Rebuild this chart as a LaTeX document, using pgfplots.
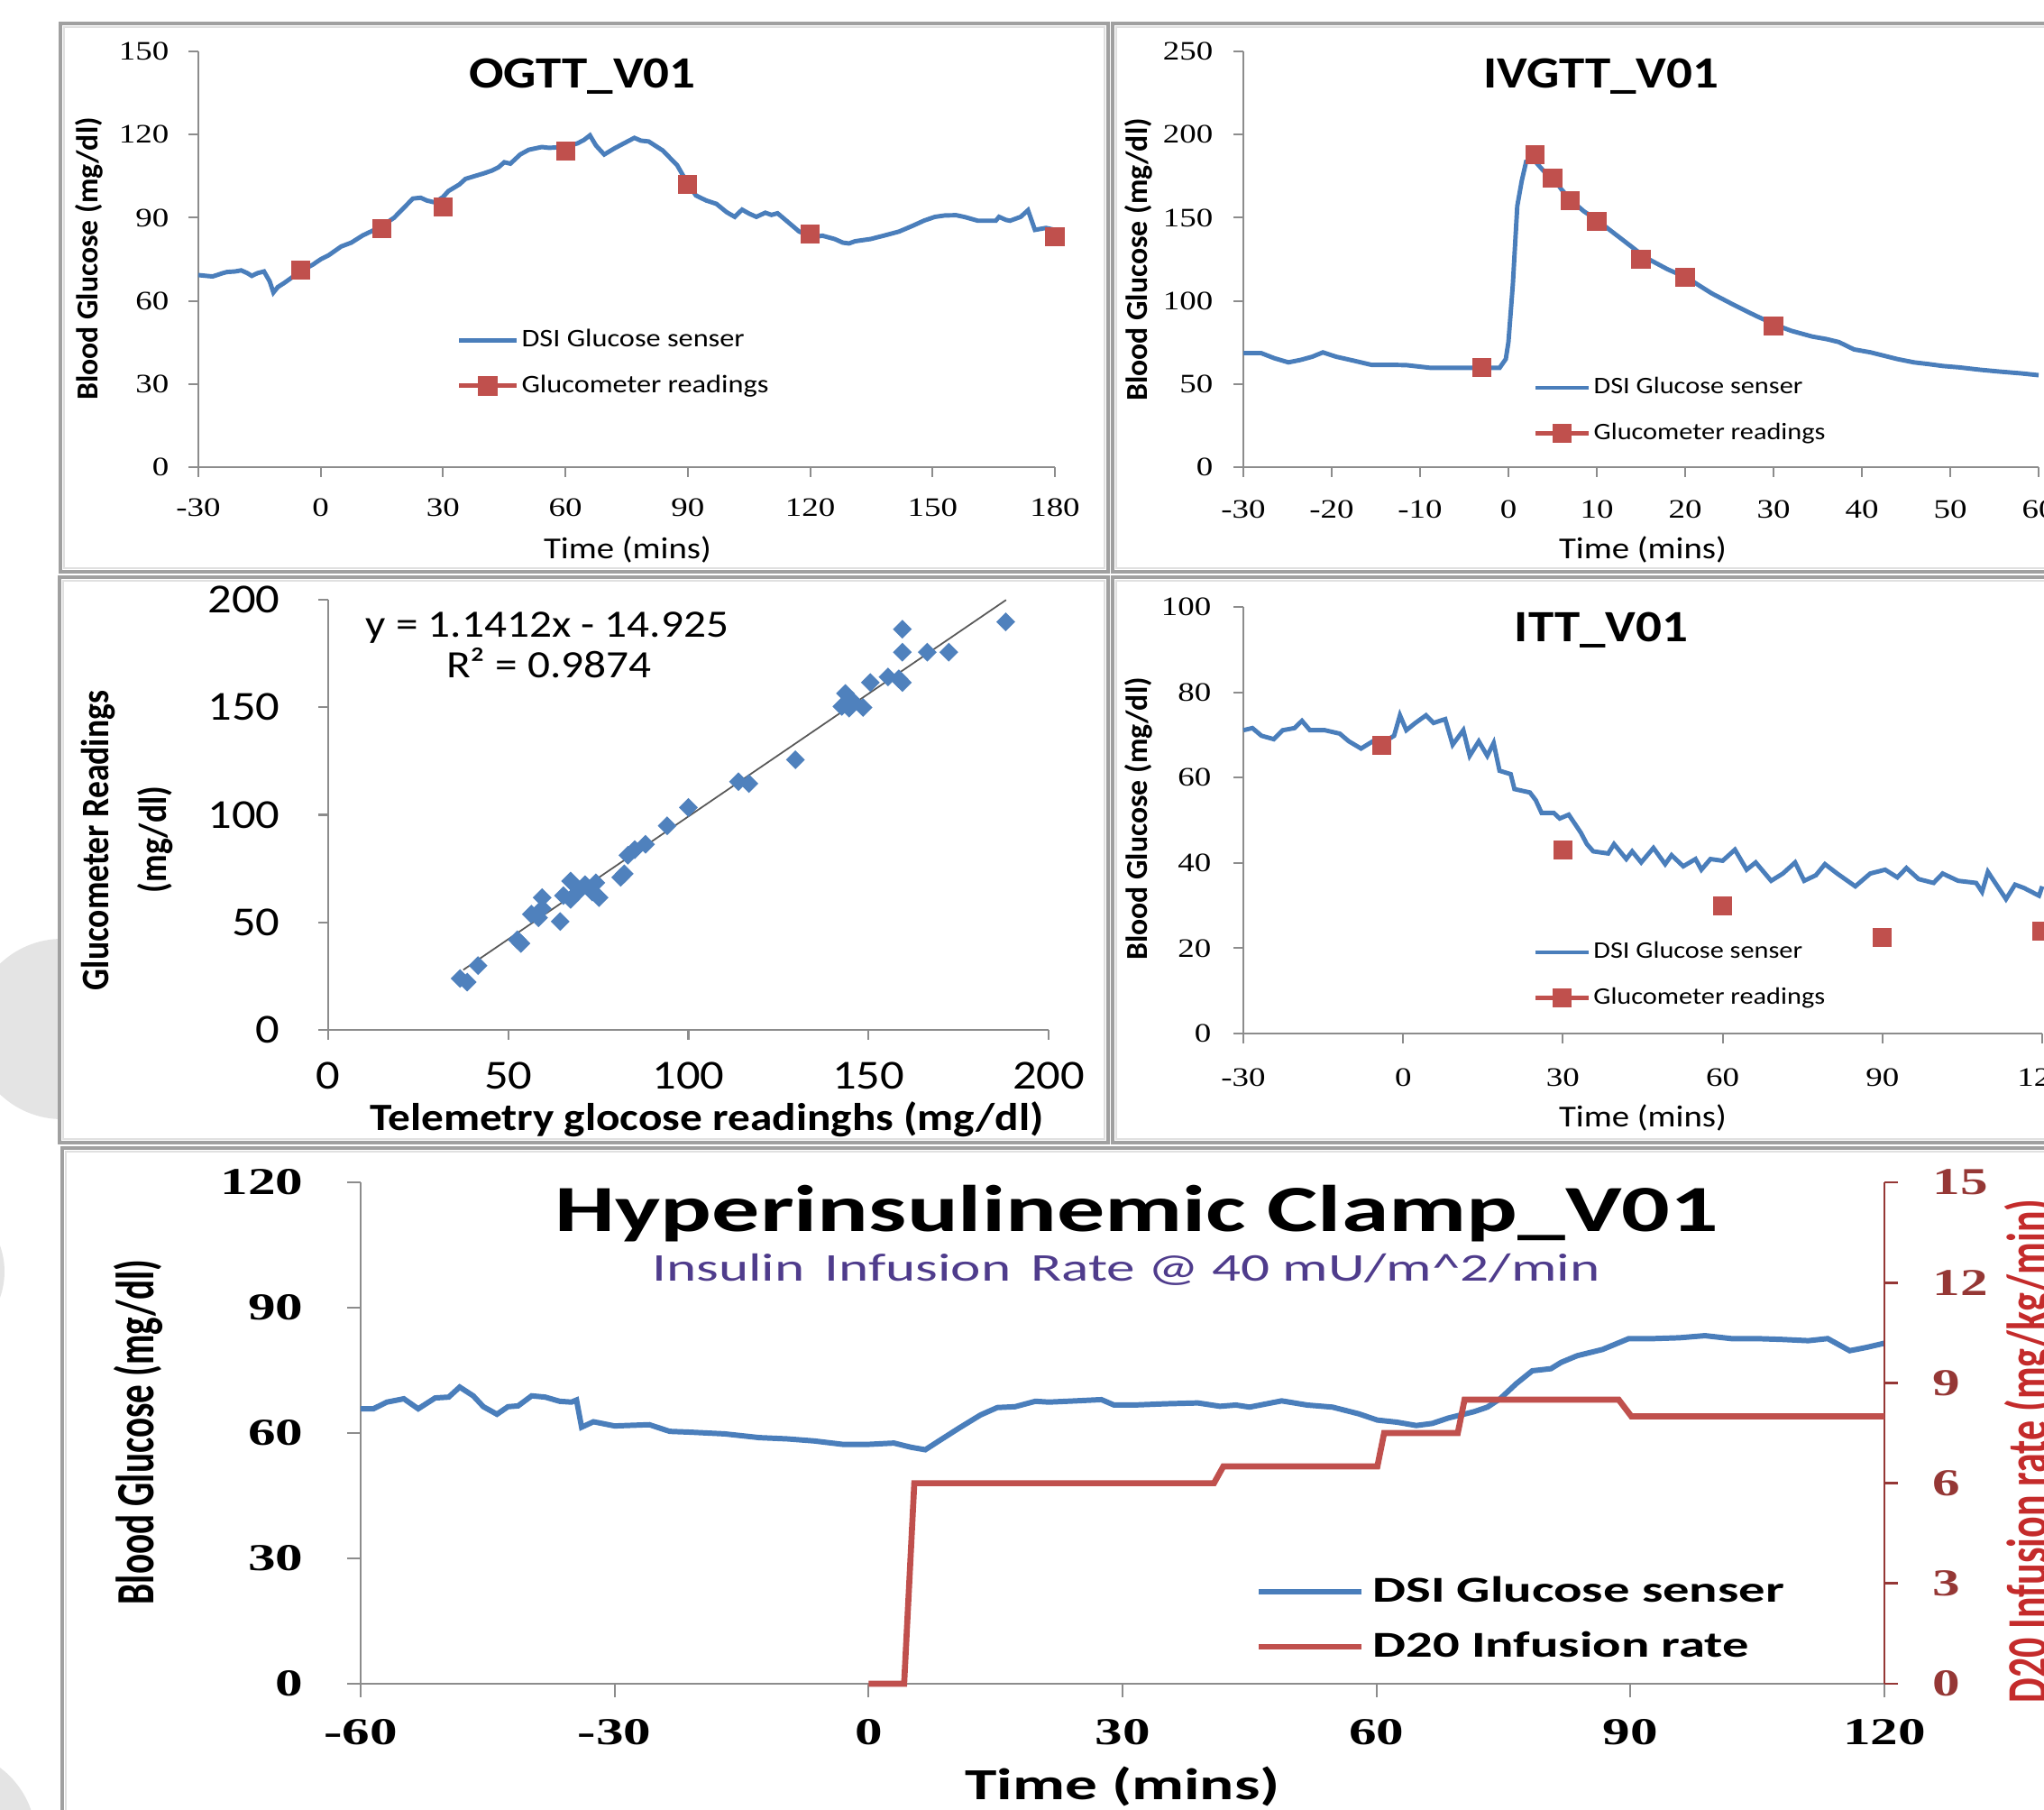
\documentclass[border=0pt]{standalone}
\usepackage{pgfplots}
\pgfplotsset{compat=1.18}
\usepackage{graphicx}
\usepackage{fontspec}
\setmainfont{Carlito}
\newfontfamily\fA[FakeStretch=1.15]{Carlito}
\newfontfamily\fB[FakeStretch=1.45]{Carlito}
\newfontfamily\sA[FakeStretch=1.25]{Liberation Serif}
\newfontfamily\sB[FakeStretch=1.45]{Liberation Serif}
\definecolor{xblue}{HTML}{4A7EBB}
\definecolor{dblue}{HTML}{4F81BD}
\definecolor{xred}{HTML}{C0504D}
\definecolor{axgray}{HTML}{8C8C8C}
\definecolor{framegray}{HTML}{A0A0A0}
\definecolor{darkred2}{HTML}{953735}
\definecolor{lblred}{HTML}{C42B2B}
\definecolor{purp}{HTML}{4F3C8C}
\definecolor{blob}{HTML}{E4E4E4}
\newcommand{\fs}[1]{\fontsize{#1}{#1}\selectfont}

\pgfplotsset{
  excel/.style={
    scale only axis, enlargelimits=false, clip=false,
    anchor=south west,
    axis x line*=bottom, axis y line*=left,
    axis line style={draw=axgray, line width=0.6pt},
    tick style={draw=axgray, line width=0.6pt},
    tick align=outside, major tick length=1.1mm,
    /pgf/number format/assume math mode=true,
    /pgf/number format/1000 sep={},
    legend cell align=left,
  },
  sqlegend/.style={legend image code/.code={
      \draw[xred, line width=1.4pt] (0cm,0cm) -- (#1,0cm);
      \fill[xred] (0.5*#1,0cm) ++(-0.1cm,-0.1cm) rectangle ++(0.2cm,0.2cm);}},
}

\begin{document}
\begin{tikzpicture}
\useasboundingbox (0,0) rectangle (22.67,20.06);
\clip (0,0) rectangle (22.67,20.06);
\fill[white] (0,0) rectangle (22.67,20.06);
% background blobs
\fill[blob] (0.69,8.65) circle (1.0);
\fill[blob] (-0.80,5.96) circle (0.85);
\fill[blob] (-0.60,-0.34) circle (1.0);
% panel frames
\foreach \a/\b/\c/\d in {0.67/13.72/12.29/19.80, 12.34/13.72/22.80/19.80, 0.66/7.39/12.29/13.66, 12.34/7.39/22.80/13.66, 0.69/-0.20/22.80/7.33}{
  \filldraw[fill=white, draw=framegray, line width=0.35mm] (\a,\b) rectangle (\c,\d);
  \draw[black!12, line width=0.2mm] (\a+0.04,\b+0.04) rectangle (\c-0.04,\d-0.04);
}

% ---------------- Panel 1: OGTT ----------------
\begin{axis}[excel, at={(2.20cm,14.88cm)}, width=9.50cm, height=4.61cm,
  xmin=-30, xmax=180, ymin=0, ymax=150,
  xtick={-30,0,...,180}, ytick={0,30,...,150},
  xticklabel style={font=\sA\fs{8.4}, anchor=center, yshift=-3.4mm, inner sep=0pt},
  yticklabel style={font=\sA\fs{8.4}, anchor=east, xshift=-2.1mm, inner sep=0pt},
  legend style={draw=none, fill=none, at={(0.301,0.339)}, anchor=north west,
    inner sep=0pt, row sep=5.5pt, font=\fA\fs{8}, nodes={inner sep=0.3mm}},
  legend image code/.code={\draw[#1] (0cm,0cm) -- (0.64cm,0cm);},
]
\addplot[xblue, line width=1.4pt] coordinates {
(-30,69.3) (-28,69) (-26.5,68.8) (-24,70) (-23,70.4) (-21,70.6) (-19.5,71) (-18,70) (-16.9,69) (-15.5,70) (-13.9,70.6) (-12.5,67) (-11.6,63) (-10.5,65) (-9,66.4) (-7,68.5) (-4.6,71) (-2,73) (0,75) (2,76.5) (5,79.6) (7.5,81) (10.3,83.6) (13,85.5) (15.6,87.6) (18,90) (20,93) (22.6,96.9) (24.5,97.2) (26,96.2) (28,95.5) (30,97.5) (31.3,99.6) (34,102) (35.5,104) (37.5,104.9) (40,106) (42,107) (43.6,108.2) (45,110) (46.5,109.5) (48.9,112.8) (51,114.5) (54.2,115.5) (56,115.2) (59.4,115.5) (61,116) (62.9,116.8) (64.5,118) (66,119.7) (67.5,116) (69.5,112.8) (72,115) (74.3,116.8) (76.9,118.8) (78.5,117.8) (80.4,117.5) (83.9,114.2) (86,111) (87.4,108.9) (90,102.2) (92,98) (94.5,96.2) (97,95) (99.5,92) (101.5,90.3) (103.3,92.9) (105,91.5) (106.8,90.3) (109,91.8) (110.5,91) (112,91.6) (114.5,88.5) (117.3,85) (120.8,83) (123,83.5) (126,82.3) (128,81) (129.5,80.7) (131,81.5) (134.8,82.3) (138,83.5) (141.8,85) (145,87) (148,89) (150.6,90.3) (153,90.8) (155.8,90.9) (158,90.2) (161.1,88.9) (165.5,88.9) (166.3,90.3) (168,89.2) (169,88.9) (171.6,90.3) (173.4,92.7) (175.1,85.6) (177.8,86.3) (180,85.6)
};
\addlegendentry{DSI Glucose senser}
\addplot[only marks, mark=square*, mark size=2.8pt, color=xred, sqlegend=0.64cm] coordinates {
(-5,71) (15,86) (30,94) (60,114) (90,102) (120,84) (180,83)
};
\addlegendentry{Glucometer readings}
\end{axis}

% ---------------- Panel 2: IVGTT ----------------
\begin{axis}[excel, at={(13.79cm,14.88cm)}, width=8.82cm, height=4.61cm,
  xmin=-30, xmax=60, ymin=0, ymax=250,
  xtick={-30,-20,...,60}, ytick={0,50,...,250},
  xticklabel style={font=\sA\fs{8.4}, anchor=center, yshift=-3.6mm, inner sep=0pt},
  yticklabel style={font=\sA\fs{8.4}, anchor=east, xshift=-2.2mm, inner sep=0pt},
  legend style={draw=none, fill=none, at={(0.364,0.2245)}, anchor=north west,
    inner sep=0pt, row sep=6pt, font=\fA\fs{7.5}, nodes={inner sep=0.3mm}},
  legend image code/.code={\draw[#1] (0cm,0cm) -- (0.59cm,0cm);},
]
\addplot[xblue, line width=1.4pt] coordinates {
(-30,68.6) (-28,68.6) (-26.5,65.5) (-24.9,63) (-23.5,64.5) (-22.2,66.4) (-21,69) (-19.5,66.4) (-17.5,64) (-15.5,61.5) (-13,61.5) (-11.5,61.3) (-8.8,59.7) (-4.7,59.7) (-1,59.7) (-0.3,65) (0,75.2) (0.5,110) (1,157) (1.5,172) (2,183.6) (3,184) (4,178) (5.1,173.7) (6,167) (7.1,160.4) (8.5,154) (10.1,148.2) (12.8,137.2) (15.5,126.1) (18,119) (20.2,113.9) (23,104.5) (25.6,97.3) (28,91) (30.4,85.2) (32,82) (34.4,78.5) (36,77) (37.4,75.2) (39.1,70.8) (41,69) (42.5,67) (44,65) (45.9,63) (47.5,62) (49.2,60.8) (51,60) (53.3,58.6) (55.5,57.5) (58,56.4) (60,55.3)
};
\addlegendentry{DSI Glucose senser}
\addplot[only marks, mark=square*, mark size=2.8pt, color=xred, sqlegend=0.59cm] coordinates {
(-3,60) (3,188) (5,174) (7,160) (10,148) (15,125) (20,114) (30,85)
};
\addlegendentry{Glucometer readings}
\end{axis}

% ---------------- Panel 3: scatter ----------------
\begin{axis}[excel, at={(3.64cm,8.64cm)}, width=7.99cm, height=4.77cm,
  xmin=0, xmax=200, ymin=0, ymax=200,
  xtick={0,50,...,200}, ytick={0,50,...,200},
  xticklabel style={font=\fA\fs{13}, anchor=center, yshift=-4.0mm, inner sep=0pt},
  yticklabel style={font=\fA\fs{13}, anchor=east, xshift=-4.2mm, inner sep=0pt},
]
\addplot[black!65, line width=0.5pt] coordinates {(37.5,27.9) (188.2,199.9)};
\addplot[only marks, mark=square*, mark size=1.9pt, mark options={rotate=45, fill=dblue, draw=dblue}] coordinates {
(188.1,189.7) (159.4,186.3) (159.4,175.6) (166.3,175.6) (172.3,175.6) (150.5,161.5) (155.4,164.1) (158.4,163.2) (159.4,161.5) (143.6,156.4) (142.6,150.4) (144.6,149.6) (148.5,149.9) (145.5,153) (129.7,125.6) (113.9,115.4) (116.8,114.5) (100,103.4) (94.1,94.9) (88.1,86.3) (85.1,83.8) (83.2,81.2) (82.2,72.6) (81.2,70.9) (74.3,68.4) (73.3,64.1) (75.2,61.5) (71.3,67.5) (69.3,64.1) (67.3,69.2) (67.3,60.7) (65.3,62.4) (64.4,50.4) (59.4,61.5) (59.4,56.4) (56.4,53.8) (58.4,52.1) (52.5,41.9) (53.5,40.2) (41.6,29.9) (36.6,23.9) (38.6,22.2)
};
\end{axis}

% ---------------- Panel 4: ITT ----------------
\begin{axis}[excel, at={(13.79cm,8.60cm)}, width=8.86cm, height=4.73cm,
  xmin=-30, xmax=120, ymin=0, ymax=100,
  xtick={-30,0,...,120}, ytick={0,20,...,100},
  xticklabel style={font=\sA\fs{8.4}, anchor=center, yshift=-3.8mm, inner sep=0pt},
  yticklabel style={font=\sA\fs{8.4}, anchor=east, xshift=-2.4mm, inner sep=0pt},
  legend style={draw=none, fill=none, at={(0.362,0.223)}, anchor=north west,
    inner sep=0pt, row sep=6pt, font=\fA\fs{7.5}, nodes={inner sep=0.3mm}},
  legend image code/.code={\draw[#1] (0cm,0cm) -- (0.59cm,0cm);},
]
\addplot[xblue, line width=1.4pt] coordinates {
(-30,71.1) (-28.3,71.6) (-26.6,69.8) (-24.3,69) (-22.6,71.1) (-20.4,71.6) (-19,73.3) (-17.5,71.1) (-14.7,71.1) (-11.9,70.3) (-10.2,68.5) (-7.9,66.8) (-5.7,68.5) (-3.4,68.5) (-1.7,69.8) (-0.6,74.6) (0.6,71.1) (2.3,72.8) (4.3,74.6) (5.7,72.8) (7.9,73.7) (9.3,67.7) (11.3,71.1) (12.5,65.1) (14.2,68.5) (15.8,65.1) (17,68.1) (18.1,61.6) (20.2,60.8) (20.9,57.3) (23.8,56.5) (24.9,54.7) (26,51.7) (28.3,51.7) (29.4,50.4) (31.1,51.3) (33.4,47) (34.5,44.4) (35.7,42.7) (38.5,42.2) (39.6,44.4) (41.9,40.9) (43,42.7) (44.7,40.1) (47,43.5) (49.2,39.7) (50.4,41.8) (52.6,39.2) (54.9,40.9) (56,38.4) (57.7,40.9) (60,40.5) (62.3,43.1) (64.5,38.4) (66.2,40.1) (69.1,35.8) (71.3,37.5) (73.6,40.1) (75.3,35.8) (77.5,37.1) (79.2,39.7) (81.5,37.5) (84.9,34.5) (87.7,37.5) (90.5,38.4) (92.8,36.6) (94.5,38.8) (96.8,36.2) (99.6,35.3) (101.3,37.5) (104.2,35.8) (107.6,35.3) (108.7,33.2) (109.8,37.9) (113.2,31.5) (114.9,34.9) (116.6,34.1) (119.4,32.3) (120,34.5)
};
\addlegendentry{DSI Glucose senser}
\addplot[only marks, mark=square*, mark size=2.8pt, color=xred, sqlegend=0.59cm] coordinates {
(-4,67.5) (30,43) (60,30) (90,22.5) (120,24)
};
\addlegendentry{Glucometer readings}
\end{axis}

% ---------------- Panel 5: Clamp ----------------
\begin{axis}[excel, at={(4.00cm,1.39cm)}, width=16.90cm, height=5.56cm,
  xmin=-60, xmax=120, ymin=0, ymax=120,
  xtick={-60,-30,...,120}, ytick={0,30,...,120},
  major tick length=1.5mm,
  xticklabel style={font=\sB\bfseries\fs{12}, anchor=center, yshift=-3.9mm, inner sep=0pt},
  yticklabel style={font=\sB\bfseries\fs{12}, anchor=east, xshift=-4.8mm, inner sep=0pt},
]
\addplot[xblue, line width=1.7pt] coordinates {
(-60,65.8) (-58.5,65.8) (-56.9,67.4) (-54.9,68.2) (-53.2,65.8) (-51.2,68.4) (-49.6,68.6) (-48.3,71) (-46.7,68.9) (-45.5,66.3) (-43.9,64.5) (-42.6,66.3) (-41.4,66.5) (-39.8,68.9) (-38.2,68.6) (-36.5,67.6) (-35.1,67.4) (-34.5,67.9) (-33.9,61.4) (-32.5,62.7) (-30,61.7) (-25.9,62) (-23.5,60.4) (-21,60.2) (-17,59.8) (-12.9,58.9) (-9.6,58.6) (-6.4,58.1) (-3.1,57.3) (0.1,57.3) (3,57.6) (5,56.6) (6.7,56) (8.3,58.1) (10.7,61.2) (13.2,64.3) (15.2,66.1) (17.3,66.3) (19.7,67.6) (21.3,67.4) (24.5,67.7) (27.5,68) (29,66.7) (31.3,66.7) (35.1,67) (38.9,67.2) (41.5,66.4) (43.4,66.7) (45,66.2) (48.8,67.7) (51.8,66.7) (54.8,66.2) (57.9,64.6) (60.1,63.1) (62.4,62.6) (64.7,61.8) (66.6,62.3) (68.5,63.6) (71.5,65.1) (73.1,66.2) (74.6,68.2) (76.5,71.8) (78.4,74.9) (80.6,75.4) (81.8,76.9) (83.7,78.5) (86.7,80) (89.8,82.6) (92.8,82.6) (95.8,82.8) (98.8,83.3) (101.9,82.6) (104.9,82.6) (107.9,82.4) (111,82.1) (113.3,82.6) (115.9,79.7) (117.9,80.5) (120,81.5)
};
\end{axis}
\begin{axis}[excel, at={(4.00cm,1.39cm)}, width=16.90cm, height=5.56cm,
  xmin=-60, xmax=120, ymin=0, ymax=15,
  axis x line=none, axis y line*=right,
  axis line style={draw=darkred2, line width=0.8pt},
  tick style={draw=darkred2, line width=0.8pt},
  major tick length=1.5mm,
  ytick={0,3,...,15},
  yticklabel style={font=\sB\bfseries\fs{12}, text=darkred2, anchor=west, xshift=3.8mm, inner sep=0pt},
  legend style={draw=none, fill=none, at={(0.587,0.232)}, anchor=north west,
    inner sep=0pt, row sep=2.8pt, font=\fB\bfseries\fs{11.5}, nodes={inner sep=0.9mm}},
  legend image code/.code={\draw[#1] (0cm,0cm) -- (1.14cm,0cm);},
]
\addlegendimage{xblue, line width=1.7pt}
\addlegendentry{DSI Glucose senser}
\addplot[xred, line width=1.9pt] coordinates {
(0,0) (4.2,0) (5.4,6) (40.8,6) (41.9,6.5) (60.1,6.5) (60.9,7.5) (69.6,7.5) (70.4,8.5) (88.6,8.5) (90.1,8) (120,8)
};
\addlegendentry{D20 Infusion rate}
\end{axis}

% ---------------- Texts ----------------
\node[anchor=base, font=\fA\bfseries\fs{14.1}] at (6.46,19.08) {OGTT\_V01};
\node[anchor=base, font=\fA\fs{9.6}] at (6.96,13.86) {Time (mins)};
\node[rotate=90, font=\bfseries\fs{9.6}] at (0.99,17.19) {Blood Glucose (mg/dl)};

\node[anchor=base, font=\fA\bfseries\fs{14.1}] at (17.76,19.08) {IVGTT\_V01};
\node[anchor=base, font=\fA\fs{9.6}] at (18.22,13.86) {Time (mins)};
\node[rotate=90, font=\bfseries\fs{9.6}] at (12.63,17.18) {Blood Glucose (mg/dl)};

\node[anchor=base, font=\fA\bfseries\fs{12.2}] at (7.84,7.52) {Telemetry glocose readinghs (mg/dl)};
\node[rotate=90] at (1.09,10.74) {\scalebox{1}[1.15]{\bfseries\fs{10.7}Glucometer Readings}};
\node[rotate=90] at (1.72,10.75) {\scalebox{1}[1.15]{\bfseries\fs{10.7}(mg/dl)}};
\node[anchor=base, font=\fA\fs{12.2}] at (6.07,12.99) {y = 1.1412x - 14.925};
\node[anchor=base, font=\fA\fs{12.2}] at (6.09,12.54) {R² = 0.9874};

\node[anchor=base, font=\fA\bfseries\fs{14.1}] at (17.76,12.94) {ITT\_V01};
\node[anchor=base, font=\fA\fs{9.6}] at (18.22,7.56) {Time (mins)};
\node[rotate=90, font=\bfseries\fs{9.6}] at (12.63,10.98) {Blood Glucose (mg/dl)};

\node[anchor=base, font=\fB\bfseries\fs{20.8}] at (12.61,6.41) {Hyperinsulinemic Clamp\_V01};
\node[anchor=base, font=\fB\fs{12.4}, text=purp] at (12.49,5.86) {Insulin\hspace{2.2mm}Infusion\hspace{2.2mm}Rate @ 40 mU/m\textasciicircum 2/min};
\node[anchor=base, font=\fB\bfseries\fs{14}] at (12.45,0.11) {Time (mins)};
\node[rotate=90] at (1.53,4.18) {\scalebox{1}[1.45]{\bfseries\fs{11.7}Blood Glucose (mg/dl)}};
\node[rotate=90, text=lblred] at (22.52,3.97) {\scalebox{1}[1.45]{\bfseries\fs{12.5}D20 Infusion rate (mg/kg/min)}};
\end{tikzpicture}
\end{document}
